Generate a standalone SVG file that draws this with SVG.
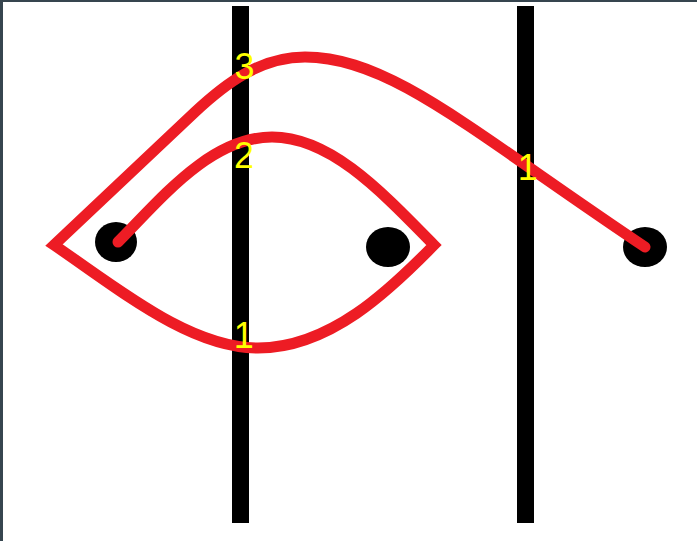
<svg xmlns="http://www.w3.org/2000/svg" width="697" height="541" viewBox="0 0 697 541">
<style>
.bar{fill:#000}
.dot{fill:#000}
.curve{fill:none;stroke:#ed1c24;stroke-width:11;stroke-linecap:round;stroke-linejoin:miter}
.lbl{font-family:"Liberation Sans",Arial,sans-serif;font-size:36px;fill:#ffff00;text-anchor:middle}
</style>
<rect x="0" y="0" width="697" height="541" fill="#36454f"/>
<rect x="3" y="2" width="694" height="539" fill="#ffffff"/>
<g id="bar-left"><rect class="bar" x="232" y="6" width="17" height="517"/></g>
<g id="bar-right"><rect class="bar" x="517" y="6" width="17" height="517"/></g>
<g id="dot-left"><ellipse class="dot" cx="116" cy="242" rx="21" ry="20"/></g>
<g id="dot-middle"><ellipse class="dot" cx="388" cy="247" rx="22" ry="20"/></g>
<g id="dot-right"><ellipse class="dot" cx="645" cy="247" rx="22" ry="20"/></g>
<g id="connectors">
<path class="curve" d="M645,247 C470,130 390,57 305,57 C260,57 225,84 195,112 L54,245 C120,290 190,348 258,348 C330,348 390,290 434,245 C380,190 330,137 272,137 C210,137 160,200 118,242"/>
</g>
<g id="labels">
<text class="lbl" x="244.5" y="79">3</text>
<text class="lbl" x="244" y="168">2</text>
<text class="lbl" x="527.8" y="180">1</text>
<text class="lbl" x="243.8" y="348">1</text>
</g>
</svg>
